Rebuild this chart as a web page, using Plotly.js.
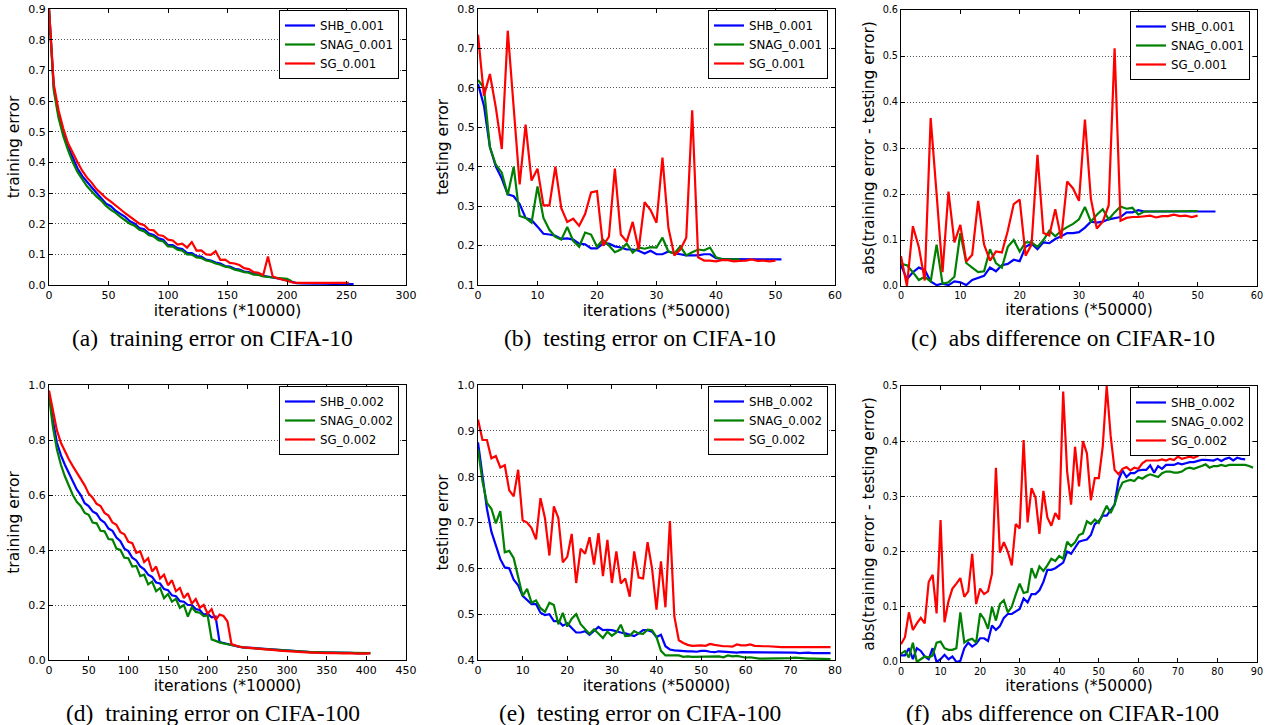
<!DOCTYPE html>
<html><head><meta charset="utf-8">
<script src="https://cdn.plot.ly/plotly-3.0.1.min.js"></script>
<style>html,body{margin:0;padding:0;background:#fff;}#chart{width:1271px;height:725px;}</style>
</head><body><div id="chart"></div>
<script>
// ---------------- DATA ----------------
const labels10 = ['SHB_0.001', 'SNAG_0.001', 'SG_0.001'];
const labels100 = ['SHB_0.002', 'SNAG_0.002', 'SG_0.002'];

// (a) training error on CIFA-10, iterations (*10000)
const a_iters = [0,4,8,12,16,20,24,28,32,36,40,44,48,52,56,60,64,68,72,76,80,84,88,92,96,100,104,108,112,116,120,124,128,132,136,140,144,148,152,156,160,164,168,172,176,180,184,188,192,196,200,204,208,212,216,220,224,228,232,236,240,244,248,252,256];
const a_shb = [0.90,0.645,0.555,0.495,0.45,0.412,0.38,0.355,0.335,0.318,0.3,0.283,0.265,0.257,0.242,0.232,0.222,0.208,0.2,0.186,0.182,0.168,0.163,0.152,0.148,0.13,0.13,0.12,0.117,0.105,0.104,0.094,0.093,0.083,0.08,0.073,0.07,0.062,0.06,0.053,0.05,0.044,0.042,0.036,0.035,0.03,0.027,0.025,0.022,0.02,0.016,0.01,0.006,0.005,0.004,0.004,0.004,0.004,0.004,0.004,0.004,0.004,0.004,0.004,0.003];
const a_snag = [0.90,0.635,0.545,0.485,0.44,0.4,0.368,0.343,0.322,0.305,0.288,0.275,0.258,0.245,0.235,0.222,0.212,0.2,0.193,0.18,0.175,0.162,0.158,0.146,0.142,0.126,0.125,0.115,0.112,0.1,0.099,0.09,0.088,0.08,0.077,0.07,0.066,0.06,0.057,0.05,0.047,0.042,0.04,0.034,0.033,0.028,0.026,0.024,0.023,0.022,0.02,0.012];
const a_sg = [0.90,0.655,0.57,0.51,0.462,0.43,0.40,0.372,0.35,0.333,0.312,0.298,0.283,0.272,0.258,0.247,0.234,0.222,0.21,0.2,0.195,0.18,0.178,0.163,0.16,0.148,0.145,0.132,0.135,0.122,0.14,0.112,0.113,0.1,0.098,0.11,0.082,0.083,0.072,0.07,0.065,0.055,0.052,0.042,0.04,0.032,0.093,0.028,0.022,0.017,0.013,0.009,0.007,0.007,0.006,0.007,0.006,0.006,0.006,0.007,0.006,0.006,0.006,0.007];

// (b) testing error on CIFA-10, iterations (*50000)
const b_shb = [0.61,0.555,0.45,0.4,0.37,0.33,0.325,0.305,0.27,0.265,0.248,0.23,0.228,0.225,0.217,0.218,0.215,0.205,0.203,0.193,0.193,0.205,0.205,0.198,0.195,0.19,0.19,0.187,0.18,0.187,0.178,0.178,0.185,0.18,0.178,0.175,0.175,0.175,0.178,0.178,0.168,0.166,0.166,0.166,0.165,0.165,0.166,0.166,0.165,0.165,0.165,0.165];
const b_snag = [0.62,0.6,0.45,0.405,0.385,0.328,0.4,0.275,0.27,0.258,0.35,0.27,0.24,0.222,0.215,0.247,0.212,0.197,0.233,0.228,0.197,0.215,0.2,0.183,0.19,0.205,0.182,0.195,0.192,0.196,0.195,0.22,0.185,0.18,0.198,0.175,0.183,0.19,0.188,0.195,0.17,0.166,0.165,0.165,0.165];
const b_sg = [0.735,0.58,0.635,0.55,0.445,0.745,0.55,0.355,0.507,0.365,0.395,0.302,0.302,0.4,0.295,0.26,0.268,0.25,0.28,0.335,0.338,0.2,0.222,0.395,0.228,0.21,0.26,0.19,0.31,0.29,0.258,0.423,0.245,0.175,0.19,0.22,0.543,0.17,0.162,0.162,0.16,0.163,0.163,0.16,0.161,0.162,0.165,0.161,0.162,0.16,0.162];

// (c) abs difference on CIFAR-10
const c_shb = [0.045,0.015,0.03,0.04,0.035,0.01,0.002,0.005,0.002,0.01,0.008,0.002,0.013,0.017,0.022,0.04,0.032,0.045,0.048,0.057,0.054,0.085,0.092,0.08,0.095,0.093,0.102,0.108,0.115,0.115,0.117,0.127,0.14,0.138,0.14,0.145,0.148,0.15,0.16,0.16,0.165,0.162,0.162,0.162,0.163,0.163,0.163,0.162,0.162,0.162,0.162,0.162,0.162,0.162];
const c_snag = [0.048,0.045,0.03,0.013,0.02,0.01,0.09,0.005,0.008,0.02,0.115,0.05,0.04,0.03,0.032,0.08,0.05,0.04,0.085,0.1,0.075,0.095,0.095,0.085,0.1,0.12,0.108,0.12,0.128,0.135,0.145,0.172,0.14,0.155,0.167,0.145,0.16,0.173,0.168,0.17,0.155,0.162,0.162,0.162,0.162,0.162,0.163,0.163,0.163,0.163,0.163];
const c_sg = [0.065,0.0,0.13,0.085,0.012,0.365,0.2,0.03,0.205,0.095,0.133,0.053,0.068,0.185,0.09,0.055,0.075,0.073,0.12,0.178,0.188,0.066,0.09,0.285,0.115,0.11,0.167,0.103,0.227,0.212,0.185,0.362,0.19,0.125,0.14,0.175,0.517,0.142,0.148,0.15,0.15,0.152,0.153,0.149,0.152,0.152,0.155,0.152,0.153,0.15,0.153];

// (d) training error on CIFA-100, iterations (*10000)
const d_iters = [0,5,10,15,20,25,30,35,40,45,50,55,60,65,70,75,80,85,90,95,100,105,110,115,120,125,130,135,140,145,150,155,160,165,170,175,180,185,190,195,200,205,210,215,220,225,230,235,240,245,250,255,260,265,270,275,280,285,290,295,300,305,310,315,320,325,330,335,340,345,350,355,360,365,370,375,380,385,390,395,400,405];
const d_shb = [0.97,0.87,0.79,0.745,0.71,0.68,0.655,0.62,0.6,0.57,0.56,0.54,0.532,0.51,0.5,0.478,0.47,0.445,0.432,0.405,0.396,0.372,0.362,0.34,0.33,0.31,0.302,0.282,0.278,0.258,0.254,0.235,0.232,0.214,0.212,0.2,0.2,0.185,0.182,0.165,0.168,0.155,0.158,0.065,0.062,0.058,0.055,0.05,0.048,0.046,0.045,0.043,0.042,0.041,0.04,0.038,0.037,0.036,0.035,0.034,0.033,0.032,0.031,0.03,0.03,0.029,0.029,0.028,0.028,0.028,0.027,0.027,0.027,0.026,0.026,0.026,0.026,0.025,0.025,0.025,0.025,0.025];
const d_snag = [0.96,0.845,0.765,0.71,0.668,0.635,0.6,0.575,0.56,0.535,0.528,0.5,0.497,0.47,0.468,0.44,0.438,0.405,0.4,0.372,0.37,0.34,0.342,0.305,0.31,0.275,0.285,0.25,0.262,0.225,0.24,0.212,0.222,0.19,0.2,0.158,0.192,0.175,0.172,0.16,0.162,0.075,0.068,0.064,0.06,0.057,0.054,0.05,0.048,0.046,0.044,0.043,0.042,0.04,0.039,0.038,0.037,0.036,0.035,0.034,0.033,0.032,0.031,0.031,0.03,0.03,0.029,0.029,0.028,0.028,0.028,0.027,0.027,0.027,0.027,0.026,0.026,0.026,0.026,0.026,0.026,0.025];
const d_sg = [0.98,0.9,0.835,0.79,0.757,0.73,0.705,0.683,0.66,0.635,0.605,0.59,0.568,0.56,0.535,0.525,0.5,0.492,0.465,0.457,0.43,0.425,0.39,0.395,0.356,0.37,0.322,0.34,0.296,0.31,0.272,0.29,0.25,0.262,0.225,0.243,0.205,0.222,0.19,0.2,0.168,0.185,0.145,0.165,0.16,0.14,0.058,0.052,0.048,0.046,0.045,0.043,0.042,0.041,0.04,0.038,0.037,0.036,0.034,0.033,0.031,0.03,0.03,0.029,0.028,0.028,0.027,0.027,0.026,0.026,0.025,0.026,0.025,0.025,0.024,0.025,0.024,0.024,0.023,0.024,0.023,0.025];

// (e) testing error on CIFA-100, iterations (*50000)
const e_shb = [0.875,0.8,0.73,0.68,0.652,0.62,0.602,0.6,0.575,0.563,0.54,0.53,0.522,0.522,0.503,0.498,0.5,0.485,0.485,0.475,0.48,0.47,0.46,0.46,0.463,0.455,0.463,0.472,0.465,0.466,0.465,0.462,0.46,0.458,0.455,0.452,0.458,0.465,0.465,0.462,0.45,0.455,0.43,0.423,0.421,0.42,0.42,0.419,0.419,0.418,0.42,0.42,0.418,0.417,0.419,0.418,0.417,0.417,0.416,0.417,0.417,0.417,0.416,0.416,0.416,0.416,0.416,0.416,0.416,0.416,0.416,0.416,0.415,0.416,0.416,0.415,0.415,0.415,0.415,0.415];
const e_snag = [0.86,0.79,0.743,0.73,0.698,0.725,0.635,0.638,0.622,0.58,0.54,0.555,0.525,0.53,0.513,0.505,0.525,0.52,0.478,0.503,0.473,0.49,0.5,0.478,0.468,0.457,0.467,0.457,0.448,0.462,0.453,0.46,0.477,0.452,0.453,0.463,0.458,0.457,0.466,0.465,0.45,0.42,0.41,0.41,0.41,0.41,0.407,0.408,0.407,0.407,0.407,0.407,0.407,0.408,0.408,0.406,0.41,0.408,0.409,0.407,0.405,0.406,0.404,0.403,0.403,0.403,0.403,0.403,0.404,0.404,0.404,0.405,0.404,0.403,0.403,0.403,0.403,0.402,0.402,0.402];
const e_sg = [0.925,0.88,0.88,0.84,0.845,0.82,0.825,0.77,0.757,0.815,0.705,0.7,0.688,0.663,0.753,0.71,0.628,0.735,0.71,0.613,0.625,0.675,0.568,0.643,0.632,0.668,0.608,0.677,0.583,0.662,0.568,0.637,0.567,0.578,0.538,0.637,0.58,0.578,0.657,0.6,0.51,0.615,0.515,0.703,0.495,0.443,0.437,0.433,0.431,0.432,0.432,0.431,0.435,0.433,0.431,0.43,0.43,0.429,0.434,0.432,0.432,0.434,0.431,0.43,0.43,0.43,0.429,0.429,0.428,0.428,0.428,0.428,0.427,0.428,0.427,0.428,0.427,0.428,0.427,0.428];

// (f) abs difference on CIFAR-100
const f_shb = [0.012,0.012,0.025,0.005,0.025,0.02,0.01,0.005,0.025,0.0,0.005,0.013,0.005,0.01,0.0,0.002,0.025,0.035,0.028,0.033,0.043,0.043,0.038,0.066,0.058,0.065,0.08,0.087,0.087,0.092,0.096,0.115,0.108,0.123,0.123,0.13,0.145,0.167,0.167,0.17,0.175,0.18,0.2,0.196,0.207,0.218,0.22,0.222,0.23,0.25,0.255,0.265,0.265,0.275,0.285,0.33,0.347,0.335,0.342,0.342,0.347,0.348,0.348,0.356,0.343,0.355,0.35,0.357,0.357,0.357,0.36,0.358,0.36,0.362,0.362,0.364,0.366,0.366,0.365,0.365,0.368,0.364,0.368,0.37,0.365,0.37,0.368,0.367];
const f_snag = [0.015,0.02,0.008,0.035,0.0,0.005,0.01,0.008,0.012,0.035,0.037,0.025,0.022,0.022,0.025,0.09,0.035,0.04,0.042,0.035,0.088,0.078,0.06,0.1,0.075,0.105,0.112,0.09,0.1,0.122,0.142,0.125,0.127,0.17,0.152,0.173,0.165,0.175,0.187,0.183,0.192,0.187,0.218,0.21,0.217,0.23,0.233,0.255,0.25,0.258,0.252,0.268,0.283,0.27,0.285,0.31,0.325,0.328,0.33,0.328,0.335,0.332,0.337,0.34,0.338,0.335,0.342,0.345,0.345,0.343,0.343,0.345,0.35,0.352,0.35,0.352,0.355,0.358,0.352,0.355,0.355,0.357,0.355,0.357,0.357,0.358,0.358,0.357,0.355,0.352];
const f_sg = [0.032,0.045,0.09,0.058,0.07,0.08,0.07,0.145,0.158,0.088,0.257,0.072,0.11,0.133,0.142,0.152,0.118,0.128,0.196,0.105,0.133,0.123,0.128,0.16,0.352,0.198,0.217,0.2,0.175,0.25,0.242,0.402,0.253,0.315,0.298,0.232,0.31,0.262,0.247,0.27,0.258,0.49,0.345,0.285,0.39,0.318,0.4,0.378,0.293,0.333,0.333,0.39,0.5,0.41,0.348,0.34,0.35,0.353,0.347,0.352,0.35,0.36,0.365,0.365,0.365,0.365,0.367,0.365,0.368,0.366,0.372,0.368,0.37,0.372,0.37,0.373,0.38,0.375,0.382,0.376,0.378,0.38,0.38,0.378,0.375,0.378,0.383,0.38,0.385];

// ---------------- LAYOUT / DRAW ----------------
const W = 1271, H = 725;
const COLORS = ['#0000ff', '#008000', '#ff0000'];
const idx = ys => ys.map((_, i) => i);

const panels = [
  {l:49, r:406, t:9, b:285, xr:[0,300], dx:50, yr:[0,0.9], dy:0.1, tf:11,
   xt:'iterations (*10000)', yt:'training error', cap:'(a)\u2002training error on CIFA-10', cx:213, cy:338,
   labels:labels10, xs:[a_iters, a_iters, a_iters], ys:[a_shb, a_snag, a_sg]},
  {l:478, r:835, t:9, b:285, xr:[0,60], dx:10, yr:[0.1,0.8], dy:0.1, tf:11,
   xt:'iterations (*50000)', yt:'testing error', cap:'(b)\u2002testing error on CIFA-10', cx:640, cy:338,
   labels:labels10, xs:[idx(b_shb), idx(b_snag), idx(b_sg)], ys:[b_shb, b_snag, b_sg]},
  {l:901, r:1257, t:10, b:286, xr:[0,60], dx:10, yr:[0,0.6], dy:0.1, tf:9.7,
   xt:'iterations (*50000)', yt:'abs(training error - testing error)', cap:'(c)\u2002abs difference on CIFAR-10', cx:1063, cy:338,
   labels:labels10, xs:[idx(c_shb), idx(c_snag), idx(c_sg)], ys:[c_shb, c_snag, c_sg]},
  {l:49, r:406, t:385, b:660, xr:[0,450], dx:50, yr:[0,1.0], dy:0.2, tf:11,
   xt:'iterations (*10000)', yt:'training error', cap:'(d)\u2002training error on CIFA-100', cx:213, cy:713,
   labels:labels100, xs:[d_iters, d_iters, d_iters], ys:[d_shb, d_snag, d_sg]},
  {l:478, r:835, t:385, b:660, xr:[0,80], dx:10, yr:[0.4,1.0], dy:0.1, tf:11,
   xt:'iterations (*50000)', yt:'testing error', cap:'(e)\u2002testing error on CIFA-100', cx:640, cy:713,
   labels:labels100, xs:[idx(e_shb), idx(e_snag), idx(e_sg)], ys:[e_shb, e_snag, e_sg]},
  {l:901, r:1257, t:386, b:662, xr:[0,90], dx:10, yr:[0,0.5], dy:0.1, tf:9.7,
   xt:'iterations (*50000)', yt:'abs(training error - testing error)', cap:'(f)\u2002abs difference on CIFAR-100', cx:1062, cy:713,
   labels:labels100, xs:[idx(f_shb), idx(f_snag), idx(f_sg)], ys:[f_shb, f_snag, f_sg]}
];

const FONT = 'DejaVu Sans';
const traces = [];
const layout = {
  width: W, height: H, margin: {l:0, r:0, t:0, b:0},
  paper_bgcolor: '#fff', plot_bgcolor: '#fff',
  font: {family: FONT, color: '#000'},
  hovermode: false, annotations: []
};

panels.forEach((p, k) => {
  const n = k + 1;
  const xa = n === 1 ? 'xaxis' : 'xaxis' + n;
  const ya = n === 1 ? 'yaxis' : 'yaxis' + n;
  const lg = n === 1 ? 'legend' : 'legend' + n;
  const common = {
    showline: true, linecolor: '#000', linewidth: 1, mirror: 'ticks',
    ticks: 'inside', ticklen: 4, tickwidth: 1, tickcolor: '#000',
    tickfont: {family: FONT, size: p.tf, color: '#000'},
    zeroline: false, fixedrange: true, automargin: false
  };
  layout[xa] = Object.assign({}, common, {
    domain: [p.l / W, p.r / W], range: p.xr, tick0: 0, dtick: p.dx,
    anchor: n === 1 ? 'y' : 'y' + n, showgrid: false,
    title: {text: p.xt, font: {family: FONT, size: 15.5, color: '#000'}, standoff: 1}
  });
  layout[ya] = Object.assign({}, common, {
    domain: [1 - p.b / H, 1 - p.t / H], range: p.yr, tick0: 0, dtick: p.dy, tickformat: '.1f',
    anchor: n === 1 ? 'x' : 'x' + n,
    showgrid: true, gridcolor: '#555', gridwidth: 1, griddash: '1px,2px',
    title: {text: p.yt, font: {family: FONT, size: 15.5, color: '#000'}, standoff: 4}
  });
  layout[lg] = {
    x: (p.r - 7) / W, y: 1 - (p.t + 1) / H, xanchor: 'right', yanchor: 'top',
    xref: 'paper', yref: 'paper',
    bgcolor: '#fff', bordercolor: '#000', borderwidth: 1,
    font: {family: FONT, size: 11.8, color: '#000'}, tracegroupgap: 0, itemwidth: 30
  };
  p.labels.forEach((name, s) => {
    traces.push({
      type: 'scatter', mode: 'lines', name: name,
      x: p.xs[s], y: p.ys[s],
      xaxis: n === 1 ? 'x' : 'x' + n, yaxis: n === 1 ? 'y' : 'y' + n,
      legend: lg, line: {color: COLORS[s], width: 2.2}
    });
  });
  layout.annotations.push({
    xref: 'paper', yref: 'paper', x: p.cx / W, y: 1 - p.cy / H,
    xanchor: 'center', yanchor: 'middle', showarrow: false, text: p.cap,
    font: {family: 'Liberation Serif', size: 23.5, color: '#000'}
  });
});

Plotly.newPlot('chart', traces, layout, {displayModeBar: false, staticPlot: true});
</script>
</body></html>
